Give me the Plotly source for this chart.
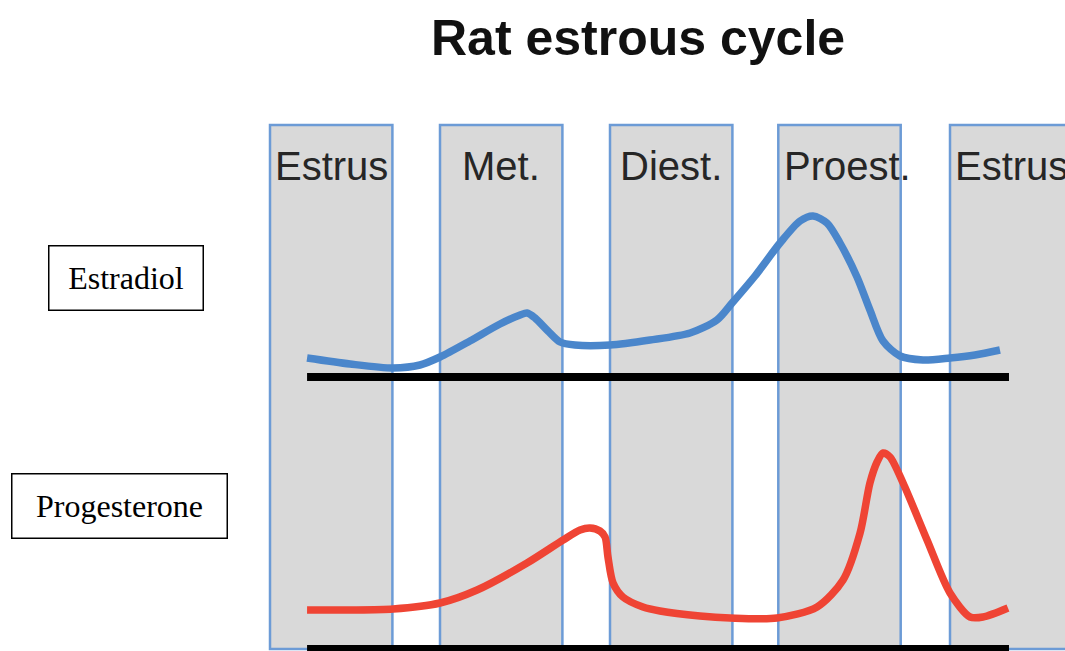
import plotly.graph_objects as go

# ---------------- data ----------------
# time axis: cycle units, each stage band begins at its start value
stage_names = ["Estrus", "Met.", "Diest.", "Proest.", "Estrus"]
stage_starts = [0.0, 1.0, 2.0, 2.99, 4.0]
stage_width = 0.72
band_top = 524  # height of the stage bands (progesterone-axis units)

cycle_start = 0.218
cycle_end = 4.347

estradiol_t = [0.218, 0.471, 0.724, 0.882, 1.0, 1.176, 1.353, 1.471, 1.512, 1.559,
               1.635, 1.706, 1.794, 2.0, 2.235, 2.471, 2.629, 2.718, 2.853, 3.0,
               3.118, 3.194, 3.276, 3.353, 3.453, 3.529, 3.606, 3.706, 3.841, 4.0,
               4.147, 4.294]
estradiol = [19, 13, 9, 12, 20, 36, 53, 62, 64, 59,
             46, 35, 32, 32, 37, 44, 57, 74, 101, 134,
             156, 161, 154, 134, 100, 67, 36, 21, 17, 19,
             22, 27]

progesterone_t = [0.218, 0.471, 0.724, 1.0, 1.218, 1.512, 1.724, 1.824, 1.882, 1.941,
                  1.971, 1.988, 2.018, 2.076, 2.194, 2.294, 2.529, 2.706, 2.982, 3.218,
                  3.371, 3.471, 3.529, 3.571, 3.606, 3.647, 3.724, 3.865, 4.0, 4.118,
                  4.194, 4.341]
progesterone = [39, 39, 40, 46, 59, 86, 109, 119, 121, 118,
                112, 92, 66, 52, 42, 38, 33, 31, 31, 42,
                69, 116, 166, 187, 196, 192, 166, 109, 56, 32,
                32, 41]

title_text = "Rat estrous cycle"
hormone_labels = ["Estradiol", "Progesterone"]

# ---------------- figure ----------------
fig = go.Figure()

fig.add_trace(go.Bar(
    x=[s + stage_width / 2 for s in stage_starts],
    y=[band_top] * len(stage_starts),
    base=0,
    width=stage_width,
    marker=dict(color="#D9D9D9", line=dict(color="#6C9BD6", width=2.5)),
    yaxis="y", showlegend=False, hoverinfo="skip",
))

# baselines
fig.add_trace(go.Scatter(x=[cycle_start, cycle_end], y=[0, 0], mode="lines",
                         line=dict(color="black", width=8), yaxis="y", showlegend=False))
fig.add_trace(go.Scatter(x=progesterone_t, y=progesterone, mode="lines",
                         line=dict(color="#EF4434", width=7.5, shape="spline", smoothing=0.8),
                         yaxis="y", showlegend=False))
fig.add_trace(go.Scatter(x=[cycle_start, cycle_end], y=[0, 0], mode="lines",
                         line=dict(color="black", width=8), yaxis="y2", showlegend=False))
fig.add_trace(go.Scatter(x=estradiol_t, y=estradiol, mode="lines",
                         line=dict(color="#4A86CB", width=7.5, shape="spline", smoothing=0.8),
                         yaxis="y2", showlegend=False))

annotations = []
for name, s in zip(stage_names, stage_starts):
    annotations.append(dict(
        x=s + stage_width / 2, y=483, xref="x", yref="y", text=name, showarrow=False,
        xanchor="center", yanchor="middle", xshift=8 if name == "Proest." else 0,
        font=dict(family="Liberation Sans, Arial", size=40, color="#262626"),
    ))

annotations.append(dict(
    x=638 / 1065, y=1 - 38 / 651, xref="paper", yref="paper", text="<b>" + title_text + "</b>",
    showarrow=False, xanchor="center", yanchor="middle",
    font=dict(family="Liberation Sans, Arial", size=50, color="#111111"),
))

annotations.append(dict(
    x=125.5 / 1065, y=1 - 277.5 / 651, xref="paper", yref="paper", text=hormone_labels[0],
    showarrow=False, xanchor="center", yanchor="middle", width=153, height=63,
    borderpad=0, bordercolor="black", borderwidth=1.5, bgcolor="white",
    font=dict(family="Liberation Serif, Times New Roman", size=32, color="black"),
))
annotations.append(dict(
    x=119 / 1065, y=1 - 505.5 / 651, xref="paper", yref="paper", text=hormone_labels[1],
    showarrow=False, xanchor="center", yanchor="middle", width=214, height=63,
    borderpad=0, bordercolor="black", borderwidth=1.5, bgcolor="white",
    font=dict(family="Liberation Serif, Times New Roman", size=32, color="black"),
))

fig.update_layout(
    width=1065, height=651,
    margin=dict(l=0, r=0, t=0, b=0),
    paper_bgcolor="white", plot_bgcolor="white",
    barmode="overlay",
    xaxis=dict(range=[-270 / 170, 795 / 170], visible=False, fixedrange=True),
    yaxis=dict(range=[-2, 649], visible=False, fixedrange=True),
    yaxis2=dict(range=[-274, 377], visible=False, overlaying="y", fixedrange=True),
    annotations=annotations,
    showlegend=False,
)

fig.write_html("out.html", config={"displayModeBar": False},
               post_script="document.body.style.margin='0';document.body.style.overflow='hidden';")
